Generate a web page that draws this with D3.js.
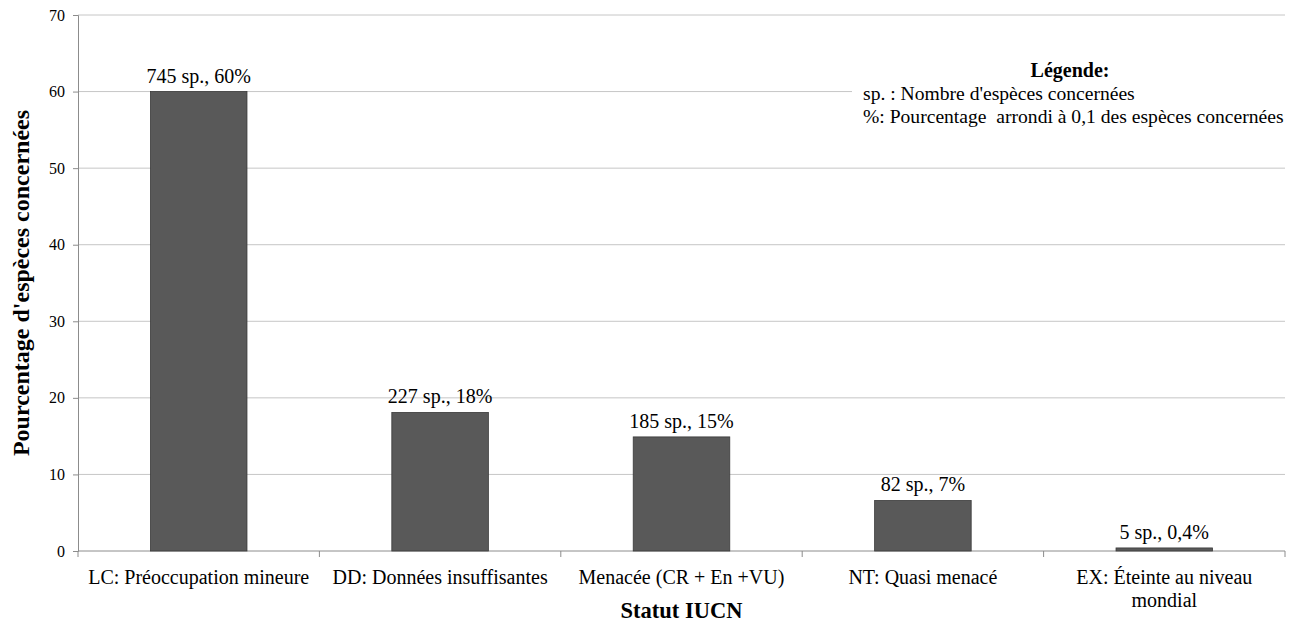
<!DOCTYPE html>
<html>
<head>
<meta charset="utf-8">
<script src="https://cdn.jsdelivr.net/npm/d3@7"></script>
<style>
  body { margin: 0; background: #fff; }
  svg text { font-family: "Liberation Serif", "Times New Roman", serif; fill: #000; }
</style>
</head>
<body>
<div id="chart"></div>
<script>
// data
const categories = [
    ["LC: Préoccupation mineure"],
    ["DD: Données insuffisantes"],
    ["Menacée (CR + En +VU)"],
    ["NT: Quasi menacé"],
    ["EX: Éteinte au niveau", "mondial"]
];
const percents = [60, 18.1, 14.9, 6.6, 0.4];
const barLabels = ["745 sp., 60%", "227 sp., 18%", "185 sp., 15%", "82 sp., 7%", "5 sp., 0,4%"];
const yTicks = [0, 10, 20, 30, 40, 50, 60, 70];
const legendLines = ["sp. : Nombre d'espèces concernées", "%: Pourcentage  arrondi à 0,1 des espèces concernées"];

const serif = "Liberation Serif, Times New Roman, serif";
const margin = { top: 15, right: 13, bottom: 74, left: 78 };
const W = 1298, H = 625;
const width = W - margin.left - margin.right;
const height = H - margin.top - margin.bottom;

const svg = d3.select("#chart")
    .append("svg")
    .attr("width", W)
    .attr("height", H)
    .attr("font-family", serif)
    .append("g")
    .attr("transform", `translate(${margin.left},${margin.top})`);

const keys = categories.map(c => c.join(" "));

const xScale = d3.scaleBand()
    .domain(keys)
    .range([0, width])
    .paddingInner(0.6)
    .paddingOuter(0.3);

const yScale = d3.scaleLinear()
    .domain([0, 70])
    .range([height, 0]);

// gridlines
svg.selectAll(".grid")
    .data(yTicks.filter(d => d > 0))
    .enter()
    .append("line")
    .attr("x1", 0)
    .attr("x2", width)
    .attr("y1", d => yScale(d))
    .attr("y2", d => yScale(d))
    .attr("stroke", "#c6c6c6")
    .attr("stroke-width", 1);

// y axis
const yAxis = svg.append("g")
    .call(d3.axisLeft(yScale).tickValues(yTicks).tickSize(5).tickPadding(8));
yAxis.attr("font-family", serif).attr("font-size", 16);
yAxis.select(".domain").attr("stroke", "#8c8c8c");
yAxis.selectAll(".tick line").attr("stroke", "#8c8c8c");
yAxis.selectAll("text").attr("fill", "#000");

// x axis: ticks between categories
const xAxis = svg.append("g").attr("transform", `translate(0,${height})`);
xAxis.append("line")
    .attr("x1", 0).attr("x2", width)
    .attr("stroke", "#8c8c8c");
const step = xScale.step();
d3.range(keys.length + 1).forEach(i => {
    const x = xScale(keys[0]) - step * xScale.paddingOuter() + i * step;
    xAxis.append("line")
        .attr("x1", x).attr("x2", x)
        .attr("y1", 0).attr("y2", 6)
        .attr("stroke", "#8c8c8c");
});

// bars
svg.selectAll(".bar")
    .data(percents)
    .enter()
    .append("rect")
    .attr("x", (d, i) => xScale(keys[i]))
    .attr("y", d => yScale(d))
    .attr("width", xScale.bandwidth())
    .attr("height", d => height - yScale(d))
    .attr("fill", "#595959")
    .attr("stroke", "#3a3a3a")
    .attr("stroke-width", 0.8);

// bar labels
svg.selectAll(".lbl")
    .data(percents)
    .enter()
    .append("text")
    .attr("x", (d, i) => xScale(keys[i]) + xScale.bandwidth() / 2)
    .attr("y", d => yScale(d) - 9)
    .attr("text-anchor", "middle")
    .style("font-size", "20px")
    .text((d, i) => barLabels[i]);

// category labels
categories.forEach((lines, i) => {
    const cx = xScale(keys[i]) + xScale.bandwidth() / 2;
    const t = svg.append("text")
        .attr("x", cx)
        .attr("y", height + 33)
        .attr("text-anchor", "middle")
        .style("font-size", "20px");
    lines.forEach((l, j) => {
        t.append("tspan")
            .attr("x", cx)
            .attr("dy", j === 0 ? 0 : 23)
            .text(l);
    });
});

// axis titles
svg.append("text")
    .attr("x", width / 2)
    .attr("y", height + 67)
    .attr("text-anchor", "middle")
    .style("font-size", "22.5px")
    .style("font-weight", "bold")
    .text("Statut IUCN");

svg.append("text")
    .attr("transform", "rotate(-90)")
    .attr("x", -yScale(35))
    .attr("y", -margin.left + 29)
    .attr("text-anchor", "middle")
    .style("font-size", "24px")
    .style("font-weight", "bold")
    .text("Pourcentage d'espèces concernées");

// legend box
const legend = svg.append("g").attr("transform", `translate(${852 - margin.left},${56 - margin.top})`);
legend.append("rect")
    .attr("width", 440)
    .attr("height", 76)
    .attr("fill", "#fff");
legend.append("text")
    .attr("x", 218)
    .attr("y", 21)
    .attr("text-anchor", "middle")
    .style("font-size", "20px")
    .style("font-weight", "bold")
    .text("Légende:");
legendLines.forEach((l, i) => {
    legend.append("text")
        .attr("x", 11)
        .attr("y", 44 + i * 23)
        .style("font-size", "19.6px")
        .style("white-space", "pre")
        .text(l);
});
</script>
</body>
</html>
